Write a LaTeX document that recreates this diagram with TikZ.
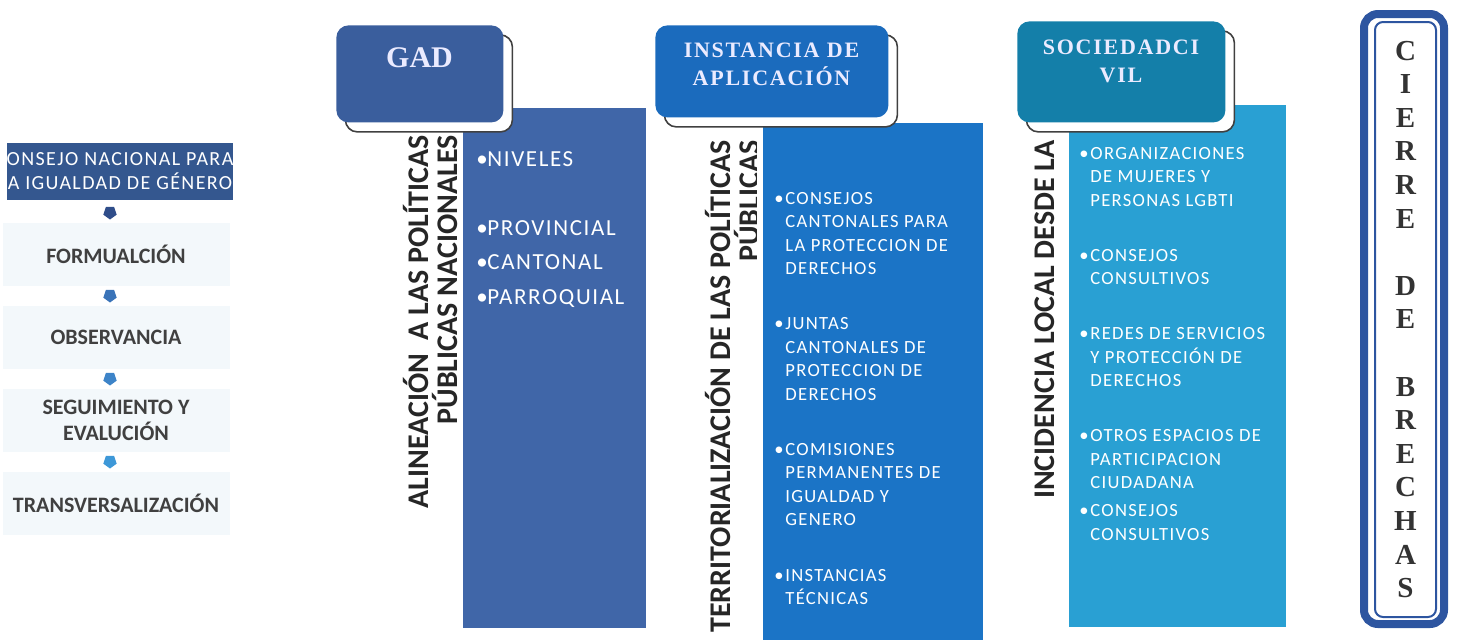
\documentclass[tikz,border=0pt]{standalone}
\usepackage{fontspec}
\setmainfont{Liberation Serif}
\setsansfont{Carlito}
\newfontfamily\widesans[LetterSpace=7]{Carlito}
\newfontfamily\wideserif[LetterSpace=8]{Liberation Serif}
\usetikzlibrary{positioning,shapes.geometric,shadows}

\definecolor{consejo}{HTML}{34578F}
\definecolor{faint}{HTML}{F3F8FB}
\definecolor{mkA}{HTML}{2F4D8A}
\definecolor{mkB}{HTML}{3A73B8}
\definecolor{mkC}{HTML}{3D84C8}
\definecolor{mkD}{HTML}{3D98D8}
\definecolor{gadbox}{HTML}{3A5E9D}
\definecolor{gadpanel}{HTML}{4066A8}
\definecolor{instbox}{HTML}{1B6BBD}
\definecolor{instpanel}{HTML}{1B74C6}
\definecolor{socbox}{HTML}{147FA9}
\definecolor{socpanel}{HTML}{29A0D3}
\definecolor{cierre}{HTML}{2D55A0}

\newcommand{\bul}{\makebox[5.5pt][l]{\textbullet}}
\newcommand{\ind}{\hspace*{5.5pt}}

\begin{document}
\begin{tikzpicture}[x=0.5pt,y=-0.5pt,node distance=41.5pt,
  stage/.style={fill=faint,minimum width=113.5pt,minimum height=31.5pt,inner sep=0pt,align=center,text=black!75,font=\sffamily\bfseries\fontsize{11}{13}\selectfont},
  marker/.style={regular polygon,regular polygon sides=5,shape border rotate=180,minimum size=7pt,inner sep=0pt},
  panel/.style={anchor=north west,inner sep=0pt},
  header/.style={anchor=north west,inner sep=0pt,rounded corners=6pt,drop shadow={opacity=1,fill=white,draw=black!75,line width=0.8pt,shadow xshift=4.5pt,shadow yshift=-4.75pt}},
  title/.style={text=white!92!blue,align=center,inner sep=0pt},
  vtitle/.style={rotate=90,anchor=east,align=right,inner sep=0pt,text=black!85,font=\sffamily\bfseries\fontsize{15}{14.5}\selectfont},
  list/.style={anchor=north west,align=left,inner sep=0pt,text=white,font=\widesans\fontsize{9.3}{11.75}\selectfont}]

    \useasboundingbox (0,0) rectangle (1458,639);

    % left column
    \node[fill=consejo,minimum width=112pt,minimum height=28.5pt,inner sep=0pt,align=center,text=white,font=\widesans\fontsize{10}{12}\selectfont] (1) at (120,171.5) {ONSEJO NACIONAL PARA\\A IGUALDAD DE GÉNERO};
    \node[stage] (2) [below of=1, xshift=-2pt] {FORMUALCIÓN};
    \node[stage] (4) [below of=2] {OBSERVANCIA};
    \node[stage] (6) [below of=4] {SEGUIMIENTO Y\\EVALUCIÓN};
    \node[stage] (8) [below of=6] {TRANSVERSALIZACIÓN};

    \node[marker, fill=mkA] (3) [below of=1, node distance=20.5pt, xshift=-5pt] {};
    \node[marker, fill=mkB] (5) [below of=2, node distance=20.5pt, xshift=-3pt] {};
    \node[marker, fill=mkC] (7) [below of=4, node distance=20.5pt, xshift=-3pt] {};
    \node[marker, fill=mkD] (9) [below of=6, node distance=20.5pt, xshift=-3pt] {};

    % panels and side titles
    \node[panel, fill=gadpanel, minimum width=91.5pt, minimum height=260pt] (10) at (463,108) {};
    \node[vtitle] (11) at (431,135) {ALINEACIÓN\ \ A LAS POLÍTICAS\\PÚBLICAS NACIONALES};
    \node[vtitle] (12) at (733,140) {TERRITORIALIZACIÓN DE LAS POLÍTICAS\\PÚBLICAS};
    \node[panel, fill=instpanel, draw=white, line width=3pt, outer sep=0pt, minimum width=113pt, minimum height=264pt] (13) at (760,120) {};
    \node[vtitle] (14) at (1045,140) {INCIDENCIA LOCAL DESDE LA};
    \node[panel, fill=socpanel, minimum width=108.5pt, minimum height=261pt] (15) at (1069,105) {};

    % headers
    \node[header, fill=gadbox, minimum width=83.5pt, minimum height=48.5pt] (16) at (336,25) {};
    \node[title, font=\bfseries\fontsize{15}{18}\selectfont] (17) at (419.5,58) {GAD};
    \node[header, fill=instbox, minimum width=116.5pt, minimum height=46pt] (18) at (655,25) {};
    \node[title, font=\wideserif\bfseries\fontsize{11}{14}\selectfont] (19) at (771.5,64) {INSTANCIA DE\\APLICACIÓN};
    \node[header, fill=socbox, minimum width=104pt, minimum height=50.5pt] (20) at (1017,21) {};
    \node[title, font=\wideserif\bfseries\fontsize{11}{14}\selectfont] (21) at (1121,61.5) {SOCIEDADCI\\VIL};

    % lists
    \node[list, font=\widesans\fontsize{11.5}{17.25}\selectfont] (22) at (476,151) {\bul NIVELES\\[17.25pt]\bul PROVINCIAL\\\bul CANTONAL\\\bul PARROQUIAL};
    \node[list] (23) at (774,192) {\bul CONSEJOS\\\ind CANTONALES PARA\\\ind LA PROTECCION DE\\\ind DERECHOS\\[15.75pt]
        \bul JUNTAS\\\ind CANTONALES DE\\\ind PROTECCION DE\\\ind DERECHOS\\[15.75pt]
        \bul COMISIONES\\\ind PERMANENTES DE\\\ind IGUALDAD Y\\\ind GENERO\\[16pt]
        \bul INSTANCIAS\\\ind TÉCNICAS};
    \node[list] (24) at (1079,147) {\bul ORGANIZACIONES\\\ind DE MUJERES Y\\\ind PERSONAS LGBTI\\[15.75pt]
        \bul CONSEJOS\\\ind CONSULTIVOS\\[15.75pt]
        \bul REDES DE SERVICIOS\\\ind Y PROTECCIÓN DE\\\ind DERECHOS\\[15.75pt]
        \bul OTROS ESPACIOS DE\\\ind PARTICIPACION\\\ind CIUDADANA\\[2.25pt]
        \bul CONSEJOS\\\ind CONSULTIVOS};

    % cierre de brechas
    \node[draw=cierre, line width=4pt, rounded corners=7pt, minimum width=40pt, minimum height=305pt, inner sep=0pt] (25) at (1404,319) {};
    \node[draw=cierre, line width=1pt, rounded corners=4pt, minimum width=30.5pt, minimum height=297.5pt, inner sep=0pt, align=center, text=black!80, font=\bfseries\fontsize{14.5}{16.8}\selectfont] (26) at (1405.5,319.5) {C\\I\\E\\R\\R\\E\\[16.8pt]D\\E\\[16.8pt]B\\R\\E\\C\\H\\A\\S};
\end{tikzpicture}
\end{document}
